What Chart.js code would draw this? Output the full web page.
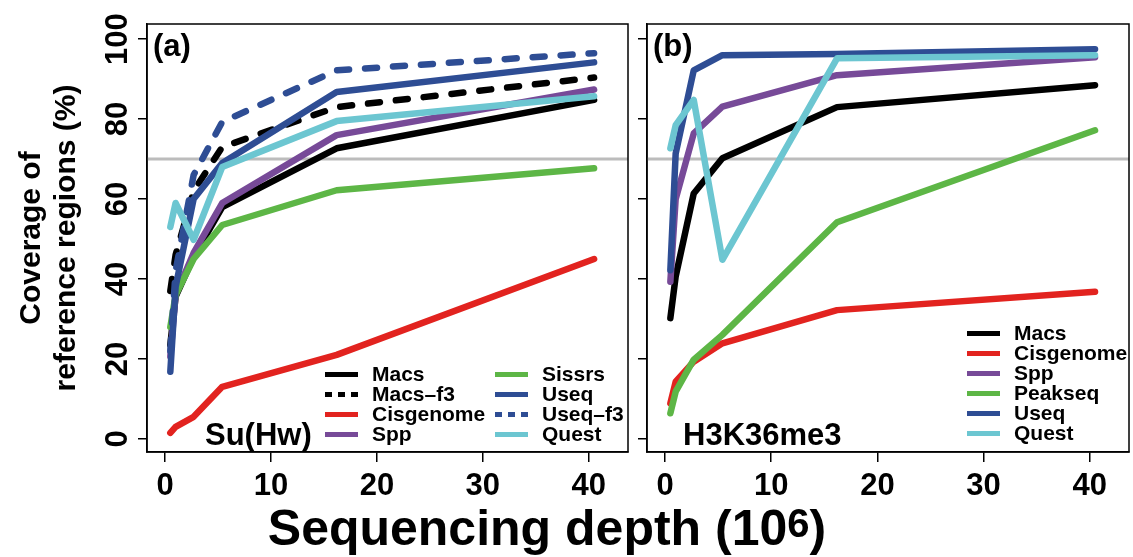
<!DOCTYPE html>
<html>
<head>
<meta charset="utf-8">
<script src="https://cdn.jsdelivr.net/npm/chart.js@4.4.1/dist/chart.umd.min.js"></script>
<style>
  body { margin: 0; background: #fff; width: 1133px; height: 557px; overflow: hidden; position: relative;
         font-family: "Liberation Sans", Arial, sans-serif; }
  #leftChart { position: absolute; left: 0; top: 0; }
  #rightChart { position: absolute; left: 633px; top: 0; }
  #xtitle { position: absolute; left: 0; width: 1094px; top: 503px; text-align: center;
            font-size: 50px; font-weight: bold; line-height: 1; color: #000; white-space: nowrap; }
  #xtitle sup { font-size: 0.8em; vertical-align: 0.2em; line-height: 0; }
</style>
</head>
<body>
<canvas id="leftChart" width="633" height="557"></canvas>
<canvas id="rightChart" width="500" height="557"></canvas>
<div id="xtitle">Sequencing depth (10<sup>6</sup>)</div>
<script>
// sequencing depth (millions of reads) for every run
const depth = [0.5, 1, 2.7, 5.4, 16.2, 40.5];
const xTicks = [0, 10, 20, 30, 40];
const yTicks = [0, 20, 40, 60, 80, 100];
const refLevel = 70;

// (a) Su(Hw)
const macsA    = [23.5, 35.6, 45.5, 58, 72.7, 84.8];
const macsF3A  = [37, 46, 62, 73, 83, 90.4];
const cisA     = [1.5, 3, 5.5, 13, 21, 45];
const sppA     = [20.6, 36, 46.5, 59, 76, 87.4];
const sissrsA  = [28, 36, 45, 53.5, 62.2, 67.7];
const useqA    = [16.8, 38, 60, 69, 86.8, 94.2];
const useqF3A  = [22, 42, 66, 79.3, 92.2, 96.5];
const questA   = [53, 59, 49.8, 68, 79.5, 85.7];

// (b) H3K36me3
const macsB    = [30.2, 40.6, 61.4, 70.2, 83, 88.5];
const cisB     = [8.9, 14.3, 19.3, 23.9, 32.2, 36.8];
const sppB     = [39.3, 60, 76.4, 83.1, 91, 95.5];
const peakseqB = [6.4, 11.8, 19.8, 26, 54.2, 77.2];
const useqB    = [42.2, 71.4, 92.2, 96, 96.3, 97.5];
const questB   = [72.7, 78.5, 84.8, 44.8, 95.2, 96];

const FONT = '"Liberation Sans", Arial, sans-serif';
Chart.defaults.font.family = FONT;

const col = {
    black: '#000000', red: '#e2231f', purple: '#774a98',
    green: '#5db646', blue: '#2e4d94', cyan: '#6cc6d1'
};

const seriesA = [
    { label: 'Macs', data: macsA, color: col.black },
    { label: 'Macs\u2013f3', data: macsF3A, color: col.black, dashed: true },
    { label: 'Cisgenome', data: cisA, color: col.red },
    { label: 'Spp', data: sppA, color: col.purple },
    { label: 'Sissrs', data: sissrsA, color: col.green },
    { label: 'Useq', data: useqA, color: col.blue },
    { label: 'Useq\u2013f3', data: useqF3A, color: col.blue, dashed: true },
    { label: 'Quest', data: questA, color: col.cyan }
];
const seriesB = [
    { label: 'Macs', data: macsB, color: col.black },
    { label: 'Cisgenome', data: cisB, color: col.red },
    { label: 'Spp', data: sppB, color: col.purple },
    { label: 'Peakseq', data: peakseqB, color: col.green },
    { label: 'Useq', data: useqB, color: col.blue },
    { label: 'Quest', data: questB, color: col.cyan }
];

function toDatasets(series) {
    return series.map((s, i) => ({
        label: s.label,
        data: s.data.map((v, k) => ({ x: depth[k], y: v })),
        borderColor: s.color,
        borderWidth: 6.5,
        borderDash: s.dashed ? [12, 16] : [],
        borderCapStyle: 'round',
        borderJoinStyle: 'round',
        pointRadius: 0,
        fill: false,
        tension: 0,
        order: -i   // later series drawn on top
    }));
}

// box, reference line, panel labels, legend, rotated y labels
const panelDecor = {
    id: 'panelDecor',
    beforeDatasetsDraw(chart, args, o) {
        const { ctx, chartArea: a } = chart;
        const yy = chart.scales.y.getPixelForValue(refLevel);
        ctx.save();
        ctx.strokeStyle = '#bcbcbc';
        ctx.lineWidth = 3;
        ctx.beginPath();
        ctx.moveTo(a.left, yy);
        ctx.lineTo(a.right, yy);
        ctx.stroke();
        ctx.restore();
    },
    afterDraw(chart, args, o) {
        const { ctx, chartArea: a } = chart;
        ctx.save();
        ctx.strokeStyle = '#000';
        ctx.lineWidth = 1.5;
        ctx.strokeRect(a.left, a.top, a.right - a.left, a.bottom - a.top);

        ctx.fillStyle = '#000';
        ctx.font = 'bold 31px ' + FONT;
        ctx.textAlign = 'left';
        ctx.textBaseline = 'alphabetic';
        ctx.fillText(o.tag, a.left + 6, 56);
        ctx.fillText(o.name, o.nameX, 445);

        // legend
        ctx.font = 'bold 21px ' + FONT;
        ctx.textBaseline = 'middle';
        o.legendCols.forEach(c => {
            c.items.forEach((s, r) => {
                const y = c.y + r * 20;
                ctx.beginPath();
                ctx.strokeStyle = s.color;
                ctx.lineWidth = 5;
                ctx.lineCap = 'butt';
                ctx.setLineDash(s.dashed ? [7, 6] : []);
                ctx.moveTo(c.x, y);
                ctx.lineTo(c.x + 33, y);
                ctx.stroke();
                ctx.setLineDash([]);
                ctx.fillText(s.label, c.x + 47, y + 1);
            });
        });

        if (o.yLabels) {
            const y = chart.scales.y;
            ctx.font = 'bold 31px ' + FONT;
            ctx.textAlign = 'center';
            ctx.textBaseline = 'alphabetic';
            yTicks.forEach(v => {
                ctx.save();
                ctx.translate(127, y.getPixelForValue(v));
                ctx.rotate(-Math.PI / 2);
                ctx.fillText(String(v), 0, 0);
                ctx.restore();
            });
            ctx.font = 'bold 30px ' + FONT;
            const cy = (a.top + a.bottom) / 2;
            ctx.save();
            ctx.translate(40, cy);
            ctx.rotate(-Math.PI / 2);
            ctx.fillText('Coverage of', 0, 0);
            ctx.restore();
            ctx.save();
            ctx.translate(75, cy);
            ctx.rotate(-Math.PI / 2);
            ctx.fillText('reference regions (%)', 0, 0);
            ctx.restore();
        }
        ctx.restore();
    }
};

function makePanel(id, series, yWidth, padRight, deco) {
    const ctx = document.getElementById(id).getContext('2d');
    return new Chart(ctx, {
        type: 'line',
        data: { datasets: toDatasets(series) },
        options: {
            responsive: false,
            animation: false,
            events: [],
            layout: { padding: { top: 24, right: padRight, left: 0, bottom: 0 } },
            plugins: { legend: { display: false }, tooltip: { enabled: false }, panelDecor: deco },
            scales: {
                x: {
                    type: 'linear', min: -1.7, max: 43.7,
                    afterBuildTicks: s => { s.ticks = xTicks.map(v => ({ value: v })); },
                    afterFit: s => { s.height = 105; },
                    ticks: { color: '#000', padding: 6, font: { size: 31, weight: 'bold' } },
                    grid: { drawOnChartArea: false, tickLength: 10, color: '#000', lineWidth: 1.5 },
                    border: { color: '#000', width: 1.5 }
                },
                y: {
                    type: 'linear', min: -3.3, max: 103.8,
                    afterBuildTicks: s => { s.ticks = yTicks.map(v => ({ value: v })); },
                    afterFit: s => { s.width = yWidth; },
                    ticks: { display: false },
                    grid: { drawOnChartArea: false, tickLength: 9, color: '#000', lineWidth: 1.5 },
                    border: { color: '#000', width: 1.5 }
                }
            }
        },
        plugins: [panelDecor]
    });
}

makePanel('leftChart', seriesA, 147, 5, {
    tag: '(a)', name: 'Su(Hw)', nameX: 205, yLabels: true,
    legendCols: [
        { x: 325, y: 374.5, items: seriesA.slice(0, 4) },
        { x: 495, y: 374.5, items: seriesA.slice(4) }
    ]
});

makePanel('rightChart', seriesB, 14, 4, {
    tag: '(b)', name: 'H3K36me3', nameX: 50, yLabels: false,
    legendCols: [
        { x: 334, y: 333.5, items: seriesB }
    ]
});
</script>
</body>
</html>
